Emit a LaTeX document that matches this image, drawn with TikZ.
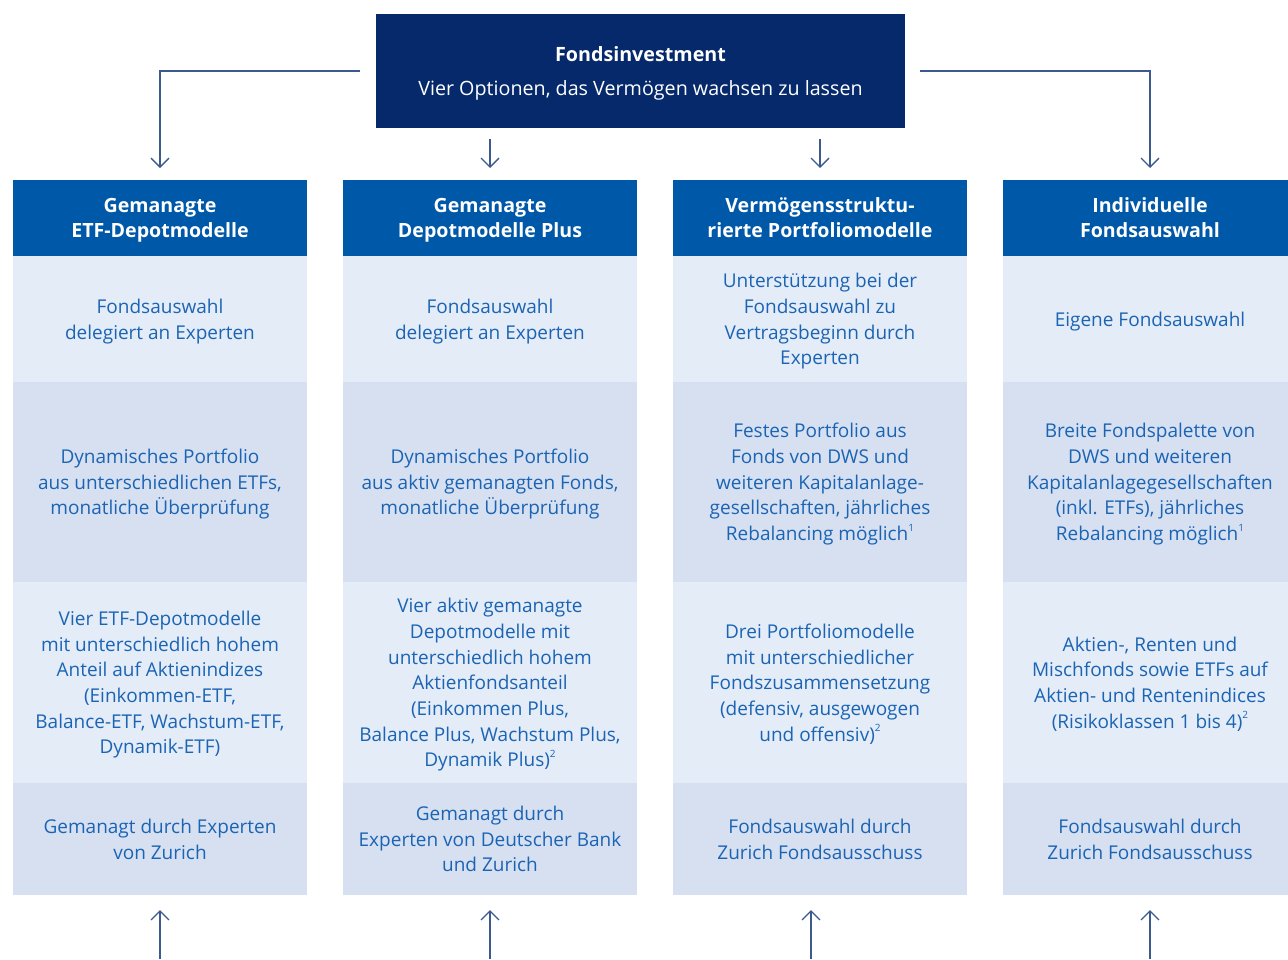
\documentclass[tikz,border=0pt]{standalone}
\usepackage{fontspec}
\setmainfont{Open Sans}
\usetikzlibrary{arrows.meta}
\definecolor{navy}{HTML}{05296B}
\definecolor{hdr}{HTML}{0058A8}
\definecolor{cellA}{HTML}{E4ECF7}
\definecolor{cellB}{HTML}{D6E0F1}
\definecolor{txt}{HTML}{1B64B4}
\definecolor{conn}{HTML}{3C5A90}
\newcommand{\fnsup}[1]{\raisebox{0.5em}{\fontsize{10}{10}\selectfont #1}}
\begin{document}
\begin{tikzpicture}[x=1pt,y=-1pt,
  cell/.style={minimum width=294pt, inner sep=0pt, outer sep=0pt, align=center, text=txt,
    font=\fontsize{19}{25.7}\selectfont, text depth=-6.3pt},
  hdrcell/.style={cell, fill=hdr, text=white, minimum height=76pt, font=\fontsize{19.6}{25}\selectfont\bfseries, text depth=-8.5pt},
  rowA/.style={cell, fill=cellA, minimum height=126pt},
  rowB/.style={cell, fill=cellB, minimum height=200pt},
  rowC/.style={cell, fill=cellA, minimum height=201pt},
  rowD/.style={cell, fill=cellB, minimum height=112pt},
  link/.style={draw=conn, line width=1.3pt, -{Straight Barb[length=9pt,width=18pt,line width=1.3pt]}}
]
\useasboundingbox (0,0) rectangle (1288,959);
\fill[white] (0,0) rectangle (1288,959);

\node[fill=navy, minimum width=529pt, minimum height=114pt, inner sep=0pt, text=white, align=center,
  font=\fontsize{19.7}{34}\selectfont, text depth=-5.3pt] (top) at (640.5,71)
  {\textbf{Fondsinvestment}\\Vier Optionen, das Vermögen wachsen zu lassen};

% headers
\node[hdrcell] (h1) at (160,218) {Gemanagte\\ETF-Depotmodelle};
\node[hdrcell] (h2) at (490,218) {Gemanagte\\Depotmodelle Plus};
\node[hdrcell] (h3) at (820,218) {Vermögensstruktu-\\rierte Portfoliomodelle};
\node[hdrcell] (h4) at (1150,218) {Individuelle\\Fondsauswahl};

% row 1
\node[rowA] (a1) at (160,319) {Fondsauswahl\\delegiert an Experten};
\node[rowA] (a2) at (490,319) {Fondsauswahl\\delegiert an Experten};
\node[rowA] (a3) at (820,319) {Unterstützung bei der\\Fondsauswahl zu\\Vertragsbeginn durch\\Experten};
\node[rowA] (a4) at (1150,319) {Eigene Fondsauswahl};

% row 2
\node[rowB] (b1) at (160,482) {Dynamisches Portfolio\\aus unterschiedlichen ETFs,\\monatliche Überprüfung};
\node[rowB] (b2) at (490,482) {Dynamisches Portfolio\\aus aktiv gemanagten Fonds,\\monatliche Überprüfung};
\node[rowB] (b3) at (820,482) {Festes Portfolio aus\\Fonds von DWS und\\weiteren Kapitalanlage-\\gesellschaften, jährliches\\Rebalancing möglich\fnsup{1}};
\node[rowB] (b4) at (1150,482) {Breite Fondspalette von\\DWS und weiteren\\Kapitalanlagegesellschaften\\(inkl. ETFs), jährliches\\Rebalancing möglich\fnsup{1}};

% row 3
\node[rowC] (c1) at (160,682.5) {Vier ETF-Depotmodelle\\mit unterschiedlich hohem\\Anteil auf Aktienindizes\\(Einkommen-ETF,\\Balance-ETF, Wachstum-ETF,\\Dynamik-ETF)};
\node[rowC] (c2) at (490,682.5) {Vier aktiv gemanagte\\Depotmodelle mit\\unterschiedlich hohem\\Aktienfondsanteil\\(Einkommen Plus,\\Balance Plus, Wachstum Plus,\\Dynamik Plus)\fnsup{2}};
\node[rowC] (c3) at (820,682.5) {Drei Portfoliomodelle\\mit unterschiedlicher\\Fondszusammensetzung\\(defensiv, ausgewogen\\und offensiv)\fnsup{2}};
\node[rowC] (c4) at (1150,682.5) {Aktien-, Renten und\\Mischfonds sowie ETFs auf\\Aktien- und Rentenindices\\(Risikoklassen 1 bis 4)\fnsup{2}};

% row 4
\node[rowD] (d1) at (160,839) {Gemanagt durch Experten\\von Zurich};
\node[rowD] (d2) at (490,839) {Gemanagt durch\\Experten von Deutscher Bank\\und Zurich};
\node[rowD] (d3) at (820,839) {Fondsauswahl durch\\Zurich Fondsausschuss};
\node[rowD] (d4) at (1150,839) {Fondsauswahl durch\\Zurich Fondsausschuss};

% connectors from top
\coordinate (tl) at (360,71);
\coordinate (tr) at (920,71);
\coordinate (tm2) at (490,139);
\coordinate (tm3) at (820,139);
\draw[link] (tl) -| ([yshift=12pt]h1.north);
\draw[link] (tr) -| ([yshift=12pt]h4.north);
\draw[link] (tm2) -- ([yshift=12pt]h2.north);
\draw[link] (tm3) -- ([yshift=12pt]h3.north);

% connectors from below
\coordinate (u1) at (160,959);
\coordinate (u2) at (490,959);
\coordinate (u3) at (811,959);
\coordinate (u4) at (1150,959);
\draw[link] (u1) -- ([yshift=-15pt]d1.south);
\draw[link] (u2) -- ([yshift=-15pt]d2.south);
\draw[link] (u3) -- ([yshift=-15pt,xshift=-9pt]d3.south);
\draw[link] (u4) -- ([yshift=-15pt]d4.south);
\end{tikzpicture}
\end{document}
